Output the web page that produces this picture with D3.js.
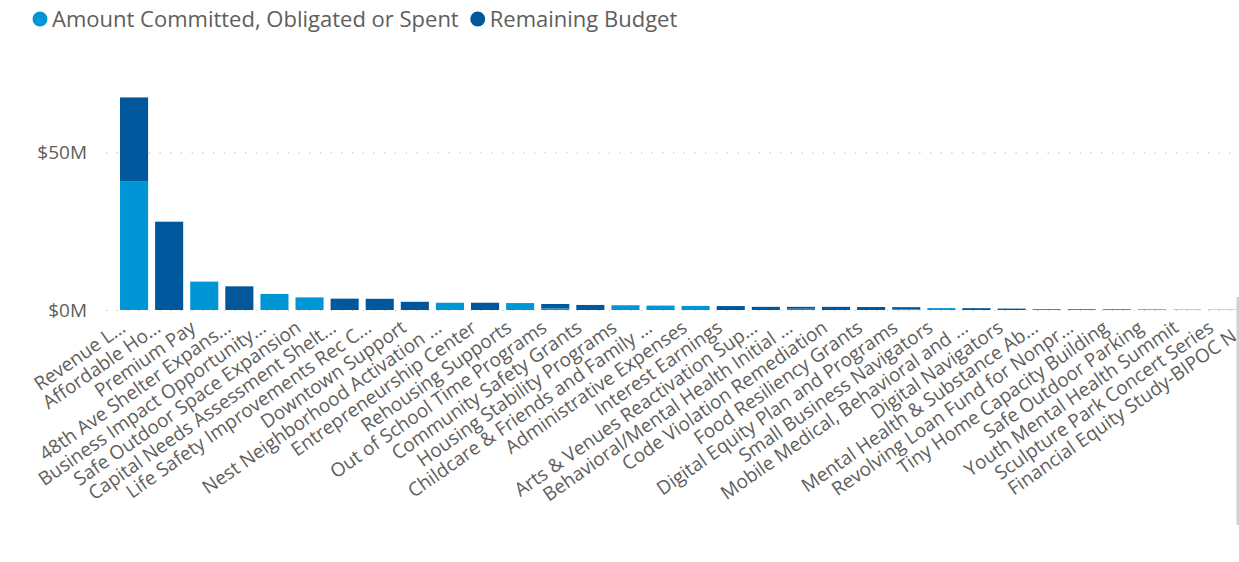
<!DOCTYPE html>
<html>
<head>
<meta charset="utf-8">
<script src="https://cdn.jsdelivr.net/npm/d3@7"></script>
<style>
  html, body { margin: 0; padding: 0; background: #ffffff; }
  svg { display: block; font-family: "Open Sans", "Noto Sans", sans-serif; }
</style>
</head>
<body>
<svg id="chart" width="1239" height="562"></svg>
<script>
// Budget by program, in millions of dollars
const categories = [
  "Revenue L…", "Affordable Ho…", "Premium Pay", "48th Ave Shelter Expans…",
  "Business Impact Opportunity…", "Safe Outdoor Space Expansion",
  "Capital Needs Assessment Shelt…", "Life Safety Improvements Rec C…",
  "Downtown Support", "Nest Neighborhood Activation …", "Entrepreneurship Center",
  "Rehousing Supports", "Out of School Time Programs", "Community Safety Grants",
  "Housing Stability Programs", "Childcare & Friends and Family …",
  "Administrative Expenses", "Interest Earnings", "Arts & Venues Reactivation Sup…",
  "Behavioral/Mental Health Initial …", "Code Violation Remediation",
  "Food Resiliency Grants", "Digital Equity Plan and Programs",
  "Small Business Navigators", "Mobile Medical, Behavioral and …",
  "Digital Navigators", "Mental Health & Substance Ab…", "Revolving Loan Fund for Nonpr…",
  "Tiny Home Capacity Building", "Safe Outdoor Parking", "Youth Mental Health Summit",
  "Sculpture Park Concert Series", "Financial Equity Study-BIPOC N…"
];
const committed = [
  40.7, 0, 9.0, 0, 5.1, 4.0, 0, 0, 0, 2.3, 0, 2.2, 0.5, 0, 1.5, 1.4, 1.3,
  0, 0, 0.4, 0, 0, 0.2, 0.6, 0, 0, 0.3, 0.3, 0.28, 0.2, 0.12, 0.1, 0.05
];
const remaining = [
  26.7, 28.0, 0, 7.5, 0, 0, 3.6, 3.55, 2.6, 0, 2.3, 0, 1.4, 1.6, 0, 0, 0,
  1.25, 1.0, 0.6, 1.0, 0.95, 0.7, 0, 0.58, 0.45, 0, 0, 0, 0, 0, 0, 0
];
const seriesNames = ["Amount Committed, Obligated or Spent", "Remaining Budget"];
const yTicks = [0, 50];

const colors = ["#0096D6", "#01579B"];
const textColor = "#605E5C";

const svg = d3.select("#chart");

// scales
const step = 35.1;
const x = d3.scaleBand()
  .domain(categories)
  .range([116.5, 116.5 + step * categories.length])
  .paddingInner(0.2)
  .paddingOuter(0.1);

const y = d3.scaleLinear()
  .domain([0, 70])
  .range([310, 310 - 70 * 3.154]);

// stacked layout
const rows = categories.map((c, i) => ({ cat: c, committed: committed[i], remaining: remaining[i] }));
const stack = d3.stack().keys(["committed", "remaining"]);
const layers = stack(rows);

// clip to the visible area of the scrolling plot
svg.append("defs").append("clipPath").attr("id", "plotClip")
  .append("rect").attr("x", 0).attr("y", 0).attr("width", 1236).attr("height", 562);

// gridlines
const yAxis = d3.axisLeft(y).tickValues(yTicks)
  .tickSize(-(1232 - 106))
  .tickPadding(19)
  .tickFormat(d => "$" + d + "M");

const gAxis = svg.append("g")
  .attr("transform", "translate(106,0)")
  .call(yAxis);
gAxis.select(".domain").remove();
gAxis.selectAll(".tick line")
  .attr("stroke", "#C8C6C4")
  .attr("stroke-width", 1.2)
  .attr("stroke-dasharray", "1.2,9.5");
gAxis.selectAll(".tick text")
  .attr("fill", textColor)
  .attr("font-size", 19)
  .attr("font-family", "'Open Sans', sans-serif");

// bars
const plot = svg.append("g").attr("clip-path", "url(#plotClip)");
plot.selectAll("g.layer")
  .data(layers)
  .join("g")
  .attr("class", "layer")
  .attr("fill", (d, i) => colors[i])
  .selectAll("rect")
  .data(d => d)
  .join("rect")
  .attr("x", d => x(d.data.cat))
  .attr("width", x.bandwidth())
  .attr("y", d => y(d[1]))
  .attr("height", d => Math.max(0, y(d[0]) - y(d[1])));

// category labels
const xl = plot.append("g");
xl.selectAll("text")
  .data(categories)
  .join("text")
  .attr("transform", d => `translate(${x(d) + x.bandwidth() / 2 - 11},325) rotate(-35)`)
  .attr("text-anchor", "end")
  .attr("dy", "0.35em")
  .attr("fill", textColor)
  .attr("font-size", 19)
  .text(d => d);

// edge of the scroll region
svg.append("rect")
  .attr("x", 1236.5).attr("y", 297).attr("width", 2.5).attr("height", 228)
  .attr("fill", "#D2D0CE");

// legend
const legend = svg.append("g");
let lx = 40;
seriesNames.forEach((name, i) => {
  legend.append("circle").attr("cx", lx).attr("cy", 19).attr("r", 7.5).attr("fill", colors[i]);
  const t = legend.append("text")
    .attr("x", lx + 12).attr("y", 27)
    .attr("fill", textColor)
    .attr("font-size", 22)
    .text(name);
  lx = lx + 12 + t.node().getComputedTextLength() + 19;
});
</script>
</body>
</html>
